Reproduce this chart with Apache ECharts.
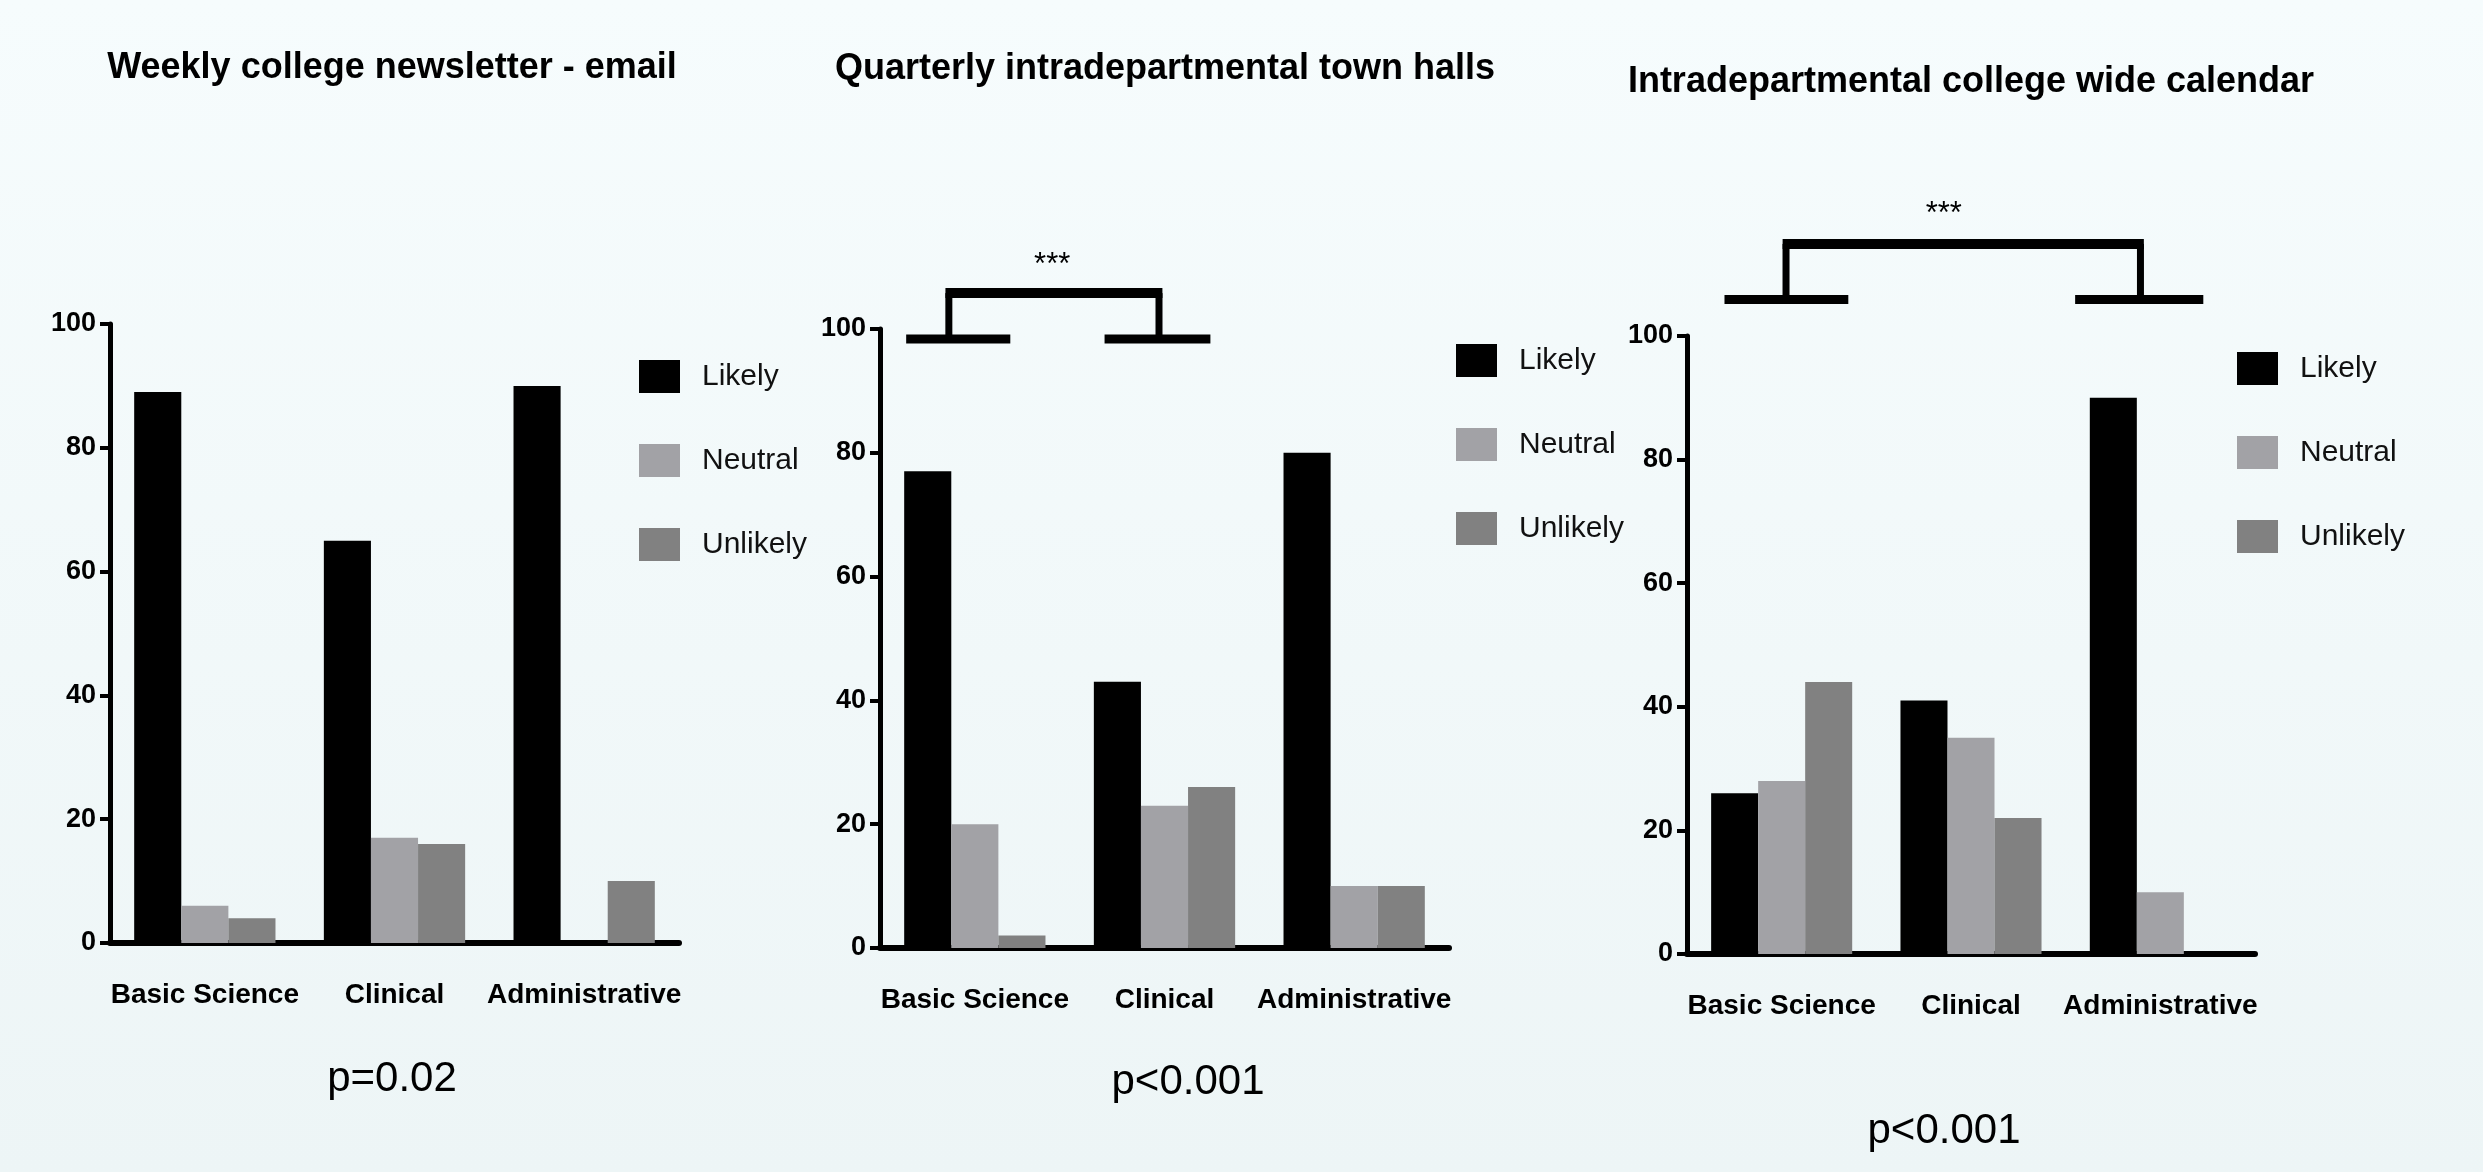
<!DOCTYPE html>
<html>
<head>
<meta charset="utf-8">
<script src="https://cdn.jsdelivr.net/npm/echarts@6/dist/echarts.min.js"></script>
<style>
html,body{margin:0;padding:0;background:#f2f9fa;}
#chart{width:2483px;height:1172px;}
</style>
</head>
<body>
<div id="chart"></div>
<script>
// ---------------- data ----------------
const categories = ['Basic Science', 'Clinical', 'Administrative'];
const seriesNames = ['Likely', 'Neutral', 'Unlikely'];
const yTicks = [0, 20, 40, 60, 80, 100];

const chartTitles = [
  'Weekly college newsletter - email',
  'Quarterly intradepartmental town halls',
  'Intradepartmental college wide calendar'
];
const pValues = ['p=0.02', 'p<0.001', 'p<0.001'];

const newsletterLikely   = [89, 65, 90];
const newsletterNeutral  = [6, 17, 0];
const newsletterUnlikely = [4, 16, 10];

const townHallLikely   = [77, 43, 80];
const townHallNeutral  = [20, 23, 10];
const townHallUnlikely = [2, 26, 10];

const calendarLikely   = [26, 41, 90];
const calendarNeutral  = [28, 35, 10];
const calendarUnlikely = [44, 22, 0];

// significance brackets, in axis units (category index, percent):
// [leftSegStart, leftSegEnd, leftStem, rightSegStart, rightSegEnd, rightStem, baseY, topY, starX, starY]
const townHallBracket = [-0.362, 0.187, -0.137, 0.684, 1.242, 0.971, 98.4, 105.8, 0.408, 110.2];
const calendarBracket = [-0.302, 0.352, 0.023, 1.55, 2.227, 1.895, 105.9, 114.9, 0.856, 119.6];
const significanceMark = '***';

// ---------------- fonts ----------------
function hasFont(name) {
  const c = document.createElement('canvas').getContext('2d');
  const s = 'Neutral Likely 0123456789';
  c.font = '40px monospace';
  const w0 = c.measureText(s).width;
  c.font = '40px "' + name + '", monospace';
  return Math.abs(c.measureText(s).width - w0) > 0.5;
}
const narrow = hasFont('Liberation Sans Narrow');
const FONT = narrow ? '"Liberation Sans Narrow", sans-serif' : '"Liberation Sans", Arial, sans-serif';
const K = narrow ? 1 : 0.82;
const fs = v => Math.round(v * K);

// ---------------- layout ----------------
const grids = [
  { left: 110, top: 324, width: 569, height: 619 },
  { left: 880, top: 329, width: 569, height: 619 },
  { left: 1687, top: 336, width: 568, height: 618 }
];
const legendPos = [
  { left: 639, top: 360 },
  { left: 1456, top: 344 },
  { left: 2237, top: 352 }
];
const titlePos = [
  { x: 392, top: 50 }, { x: 1165, top: 51 }, { x: 1971, top: 64 }
];
const pPos = [
  { x: 392, top: 1058 }, { x: 1188, top: 1061 }, { x: 1944, top: 1110 }
];
const colors = { Likely: '#000000', Neutral: '#a2a2a6', Unlikely: '#818181' };

const chartData = [
  [newsletterLikely, newsletterNeutral, newsletterUnlikely],
  [townHallLikely, townHallNeutral, townHallUnlikely],
  [calendarLikely, calendarNeutral, calendarUnlikely]
];

const xAxes = [], yAxes = [], series = [], titles = [], legends = [];

grids.forEach((g, i) => {
  xAxes.push({
    type: 'category', gridIndex: i, data: categories, boundaryGap: true,
    axisLine: { onZero: false, lineStyle: { color: '#000', width: 6 } },
    axisTick: { alignWithLabel: true, length: 14, lineStyle: { color: '#000', width: 3 } },
    axisLabel: { color: '#000', fontFamily: FONT, fontWeight: 'bold', fontSize: fs(34), margin: 38, interval: 0 },
    splitLine: { show: false }
  });
  yAxes.push({
    type: 'value', gridIndex: i, min: yTicks[0], max: yTicks[yTicks.length - 1], interval: yTicks[1] - yTicks[0],
    axisLine: { show: true, onZero: false, lineStyle: { color: '#000', width: 5 } },
    axisTick: { show: true, length: 10, lineStyle: { color: '#000', width: 4 } },
    axisLabel: { color: '#000', fontFamily: FONT, fontWeight: 'bold', fontSize: fs(33), margin: 14 },
    splitLine: { show: false }
  });
  seriesNames.forEach((name, s) => {
    series.push({
      name: name, type: 'bar', xAxisIndex: i, yAxisIndex: i,
      data: chartData[i][s],
      barGap: '0%', barCategoryGap: '25.5%',
      itemStyle: { color: colors[name] },
      emphasis: { disabled: true },
      animation: false
    });
  });
  titles.push({
    text: chartTitles[i], left: titlePos[i].x, top: titlePos[i].top, textAlign: 'center',
    padding: 0,
    textStyle: { fontFamily: FONT, fontWeight: 'bold', fontSize: fs(44), color: '#000', lineHeight: fs(44) }
  });
  titles.push({
    text: pValues[i], left: pPos[i].x, top: pPos[i].top, textAlign: 'center',
    padding: 0,
    textStyle: { fontFamily: FONT, fontWeight: 'normal', fontSize: fs(51), color: '#000', lineHeight: fs(51) }
  });
  legends.push({
    orient: 'vertical', left: legendPos[i].left, top: legendPos[i].top,
    data: seriesNames, icon: 'rect', itemWidth: 41, itemHeight: 33, itemGap: 51,
    padding: 0, selectedMode: false,
    textStyle: { fontFamily: FONT, fontSize: fs(36), color: '#111', padding: [0, 0, 0, 17] }
  });
});

// hidden value axes for the bracket annotations (span the category bands exactly)
xAxes.push({ type: 'value', gridIndex: 1, min: -0.5, max: categories.length - 0.5, show: false, axisLine: { onZero: false } });
xAxes.push({ type: 'value', gridIndex: 2, min: -0.5, max: categories.length - 0.5, show: false, axisLine: { onZero: false } });

function renderBracket(params, api) {
  const v = k => api.value(k);
  const p = (x, y) => api.coord([x, y]);
  const yb = v(6), yt = v(7);
  const hl = (xa, xb, y, w) => {
    const a = p(xa, y), b = p(xb, y);
    return { type: 'line', shape: { x1: a[0], y1: a[1], x2: b[0], y2: b[1] }, style: { stroke: '#000', lineWidth: w, lineCap: 'butt' } };
  };
  const vl = (x) => {
    const a = p(x, yb), b = p(x, yt);
    return { type: 'line', shape: { x1: a[0], y1: a[1], x2: b[0], y2: b[1] }, style: { stroke: '#000', lineWidth: 7, lineCap: 'butt' } };
  };
  const star = p(v(8), v(9));
  return {
    type: 'group',
    children: [
      hl(v(0), v(1), yb, 9),
      hl(v(3), v(4), yb, 9),
      vl(v(2)),
      vl(v(5)),
      hl(v(2) - 0.018, v(5) + 0.018, yt, 10),
      { type: 'text', style: { text: significanceMark, x: star[0], y: star[1], align: 'center', verticalAlign: 'middle',
        font: 'normal ' + fs(38) + 'px ' + FONT, fill: '#000' } }
    ]
  };
}
series.push({
  type: 'custom', name: 'bracket2', xAxisIndex: 3, yAxisIndex: 1, clip: false,
  renderItem: renderBracket, data: [townHallBracket], silent: true, animation: false,
  encode: { x: 0, y: 6 }
});
series.push({
  type: 'custom', name: 'bracket3', xAxisIndex: 4, yAxisIndex: 2, clip: false,
  renderItem: renderBracket, data: [calendarBracket], silent: true, animation: false,
  encode: { x: 0, y: 6 }
});

const chart = echarts.init(document.getElementById('chart'), null, { renderer: 'canvas' });
chart.setOption({
  animation: false,
  backgroundColor: {
    type: 'linear', x: 0, y: 0, x2: 0, y2: 1,
    colorStops: [{ offset: 0, color: '#f6fcfd' }, { offset: 1, color: '#edf5f6' }]
  },
  title: titles,
  legend: legends,
  grid: grids.map(g => Object.assign({ containLabel: false }, g)),
  xAxis: xAxes,
  yAxis: yAxes,
  series: series
});
</script>
</body>
</html>
